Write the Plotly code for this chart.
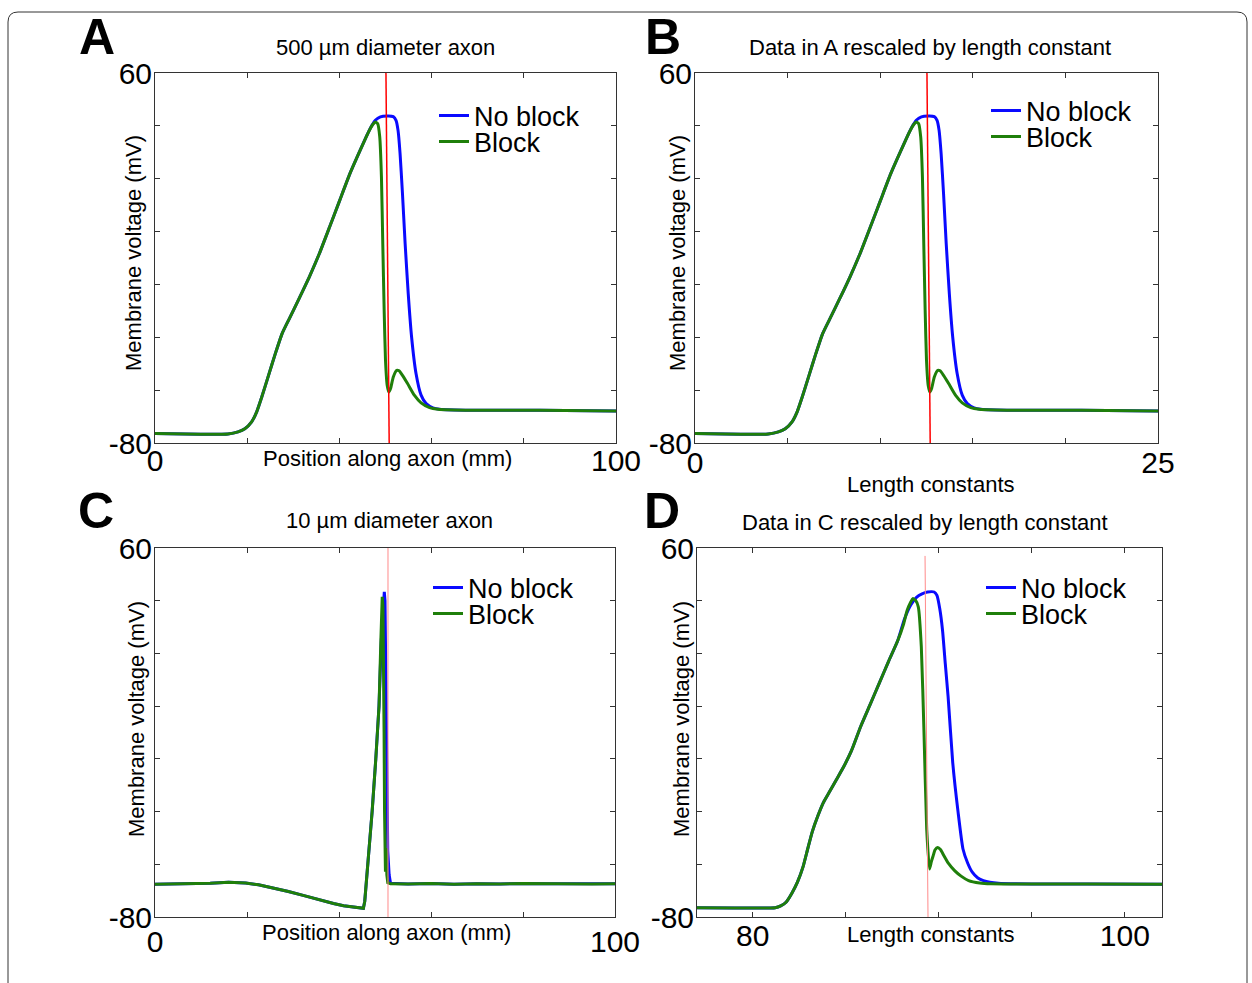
import plotly.graph_objects as go

W, H = 1252, 983
FONT = "Liberation Sans, Arial, sans-serif"

# ---------------- data ----------------
# Panel A: 500 um axon, position along axon (mm) vs membrane voltage (mV)
A_X_NOBLOCK = [0, 9.93, 15.81, 18.01, 19.49, 20.96, 22.06, 23.16, 24.63, 26.10, 27.57, 29.04, 31.25,
               33.46, 35.66, 37.87, 40.07, 42.28, 44.49, 46.32, 47.06, 47.79, 48.9, 50.37, 51.69, 52.28,
               52.72, 53.16, 53.68, 54.26, 54.93, 55.66, 56.62, 57.72, 58.82, 60.29, 61.76, 68.75, 83.46, 100]
A_V_NOBLOCK = [-76.4, -76.7, -76.6, -75.8, -74.6, -72.0, -68.2, -62.6, -54.4, -46.2, -38.6, -33.3, -25.4,
               -17.2, -8.3, 1.7, 11.8, 21.9, 30.7, 37.7, 40.2, 42.1, 43.4, 43.7, 43.5, 42.1,
               38.3, 29.5, 14.4, -4.6, -23.5, -39.9, -53.7, -61.9, -65.1, -66.7, -67.2, -67.6, -67.6, -67.9]
A_X_BLOCK = [0, 9.93, 15.81, 18.01, 19.49, 20.96, 22.06, 23.16, 24.63, 26.10, 27.57, 29.04, 31.25,
             33.46, 35.66, 37.87, 40.07, 42.28, 44.49, 46.32, 47.28, 47.79, 48.31, 48.75, 49.12, 49.41,
             49.71, 50.0, 50.37, 50.74, 51.10, 51.69, 52.43, 52.94, 53.68, 54.78, 56.25, 57.72, 59.56,
             61.40, 68.75, 83.46, 100]
A_V_BLOCK = [-76.4, -76.7, -76.6, -75.8, -74.6, -72.0, -68.2, -62.6, -54.4, -46.2, -38.6, -33.3, -25.4,
             -17.2, -8.3, 1.7, 11.8, 21.9, 30.7, 37.7, 40.6, 41.5, 40.8, 35.8, 20.7, -4.6,
             -29.8, -48.7, -58.2, -60.7, -59.4, -55.0, -52.5, -52.7, -54.4, -57.5, -61.9, -64.8, -66.6,
             -67.2, -67.6, -67.6, -67.9]
A_MARK_X = [50.1, 50.8]
A_MARK_V = [60, -80]

# Panel B: data of A rescaled by the length constant (mm per length constant)
LAMBDA_A_MM = 4.0

# Panel C: 10 um axon
C_X_NOBLOCK = [0, 6.5, 12, 16, 19.7, 22.5, 25.6, 29, 32.2, 35.5, 38.8, 41, 42.5, 44, 45.3, 45.6, 46.3,
               47.2, 48.0, 48.7, 49.2, 49.6, 49.85, 50.0, 50.15, 50.35, 50.6, 50.9, 51.2, 55, 60, 65,
               70, 75, 80, 85, 90, 95, 100]
C_V_NOBLOCK = [-67.6, -67.4, -67.2, -66.8, -67.1, -67.8, -68.9, -70.3, -71.8, -73.4, -74.9, -75.7, -76.1,
               -76.4, -76.7, -74.0, -60.0, -40.0, -20.0, 0.0, 25.0, 40.0, 43.4, 40.0, 10.0, -30.0, -55.0,
               -64.0, -67.2, -67.5, -67.3, -67.6, -67.4, -67.5, -67.3, -67.4, -67.4, -67.5, -67.4]
C_X_BLOCK = [0, 6.5, 12, 16, 19.7, 22.5, 25.6, 29, 32.2, 35.5, 38.8, 41, 42.5, 44, 45.3, 45.6, 46.3,
             47.2, 48.0, 48.7, 49.1, 49.3, 49.4, 49.55, 49.7, 49.8, 49.9, 50.0, 50.1, 50.2, 50.3, 50.4,
             50.6, 51.2, 55, 60, 65, 70, 75, 80, 85, 90, 95, 100]
C_V_BLOCK = [-67.6, -67.4, -67.2, -66.8, -67.1, -67.8, -68.9, -70.3, -71.8, -73.4, -74.9, -75.7, -76.1,
             -76.4, -76.7, -74.0, -60.0, -40.0, -20.0, 0.0, 25.0, 38.0, 41.5, 38.0, 20.0, -10.0, -40.0,
             -62.0, -62.8, -54.0, -56.0, -64.0, -67.0, -67.4, -67.5, -67.3, -67.6, -67.4, -67.5, -67.3,
             -67.4, -67.4, -67.5, -67.4]
C_MARK_X = [50.65, 50.65]
C_MARK_V = [60, -80]

# Panel D: data of C rescaled by length constant
D_X_NOBLOCK = [77, 79, 81.2, 81.5, 81.8, 82.1, 82.4, 82.7, 82.95, 83.2, 83.5, 83.8, 84.1, 84.5, 84.9,
               85.3, 85.8, 86.3, 86.8, 87.3, 87.8, 88.15, 88.5, 88.8, 89.1, 89.4, 89.75, 89.9, 90.05,
               90.2, 90.35, 90.5, 90.75, 91.04, 91.3, 91.55, 91.8, 92.1, 92.4, 93.2, 95, 98, 102]
D_V_NOBLOCK = [-76.5, -76.6, -76.5, -75.8, -74.3, -71.0, -66.8, -61.0, -54.2, -47.6, -41.6, -36.5, -32.8,
               -27.8, -22.8, -17.0, -7.7, 0.5, 8.7, 17.0, 25.0, 33.0, 38.5, 41.3, 42.6, 43.3, 43.3, 42.0,
               37.0, 28.8, 16.0, 3.6, -21.5, -40.4, -54.2, -59.5, -63.0, -65.2, -66.2, -67.2, -67.5,
               -67.5, -67.6]
D_X_BLOCK = [77, 79, 81.2, 81.5, 81.8, 82.1, 82.4, 82.7, 82.95, 83.2, 83.5, 83.8, 84.1, 84.5, 84.9,
             85.3, 85.8, 86.3, 86.8, 87.3, 87.8, 88.1, 88.3, 88.5, 88.6, 88.75, 88.9, 89.06, 89.2,
             89.35, 89.5, 89.6, 89.7, 89.8, 89.94, 90.1, 90.27, 90.5, 90.85, 91.2, 91.6, 92.2, 92.8,
             95, 98, 102]
D_V_BLOCK = [-76.5, -76.6, -76.5, -75.8, -74.3, -71.0, -66.8, -61.0, -54.2, -47.6, -41.6, -36.5, -32.8,
             -27.8, -22.8, -17.0, -7.7, 0.5, 8.7, 17.0, 25.0, 31.0, 36.4, 39.6, 40.8, 40.2, 37.6, 22.5,
             -8.9, -46.7, -61.8, -59.0, -56.7, -54.5, -53.6, -54.5, -56.7, -59.5, -62.4, -64.5, -66.2,
             -67.1, -67.4, -67.5, -67.5, -67.6]
D_MARK_X = [89.26, 89.42]
D_MARK_V = [57, -80]

SERIES = ["No block", "Block"]
PANEL_LETTERS = ["A", "B", "C", "D"]
PANEL_TITLES = ["500 µm diameter axon", "Data in A rescaled by length constant",
                "10 µm diameter axon", "Data in C rescaled by length constant"]
X_TITLES = ["Position along axon (mm)", "Length constants",
            "Position along axon (mm)", "Length constants"]
Y_TITLE = "Membrane voltage (mV)"
Y_TICKS = [-80, -60, -40, -20, 0, 20, 40, 60]
X_TICKS = [[0, 20, 40, 60, 80, 100], [0, 5, 10, 15, 20, 25],
           [0, 20, 40, 60, 80, 100], [80, 85, 90, 95, 100]]
X_TICK_LABELS = [["0", "", "", "", "", "100"], ["0", "", "", "", "", "25"],
                 ["0", "", "", "", "", "100"], ["80", "", "", "", "100"]]
X_RANGES = [[0, 100], [0, 25], [0, 100], [77, 102]]

BLUE = "#0a0aff"
GREEN = "#1f7f0a"

# ---------------- layout geometry (pixels) ----------------
def px_x(p):
    return p / W

def px_y(p):
    return 1 - p / H

DOMAINS = [  # (left, right, top, bottom) in pixels
    (155, 616, 73, 443),
    (695, 1158, 73, 443),
    (155, 615, 548, 917),
    (697, 1162, 548, 917),
]
X_LABEL_STANDOFF = [-9, -7, -2, -8]
LINE_SHAPE = ["spline", "spline", "linear", "spline"]

fig = go.Figure()

panel_data = [
    (A_X_NOBLOCK, A_V_NOBLOCK, A_X_BLOCK, A_V_BLOCK, A_MARK_X, A_MARK_V),
    ([x / LAMBDA_A_MM for x in A_X_NOBLOCK], A_V_NOBLOCK,
     [x / LAMBDA_A_MM for x in A_X_BLOCK], A_V_BLOCK,
     [x / LAMBDA_A_MM for x in A_MARK_X], A_MARK_V),
    (C_X_NOBLOCK, C_V_NOBLOCK, C_X_BLOCK, C_V_BLOCK, C_MARK_X, C_MARK_V),
    (D_X_NOBLOCK, D_V_NOBLOCK, D_X_BLOCK, D_V_BLOCK, D_MARK_X, D_MARK_V),
]
mark_styles = [("#ff0000", 1.5), ("#ff0000", 1.5), ("#ff8a8a", 1), ("#ff8a8a", 1)]

# legend geometry: (line start x, first row y, second row y)
LEG = [(439, 116, 142), (991, 111, 137), (433, 588, 614), (986, 588, 614)]

layout_extra = {}
for i, (xn, vn, xb, vb, mx, mv) in enumerate(panel_data):
    ax = "" if i == 0 else str(i + 1)
    l1 = "legend" if i == 0 else "legend%d" % (2 * i + 1)
    l2 = "legend%d" % (2 * i + 2)
    fig.add_trace(go.Scatter(x=xn, y=vn, mode="lines", name=SERIES[0], legend=l1,
                             line=dict(color=BLUE, width=3, shape=LINE_SHAPE[i], smoothing=0.5),
                             xaxis="x" + ax, yaxis="y" + ax))
    fig.add_trace(go.Scatter(x=xb, y=vb, mode="lines", name=SERIES[1], legend=l2,
                             line=dict(color=GREEN, width=3, shape=LINE_SHAPE[i], smoothing=0.5),
                             xaxis="x" + ax, yaxis="y" + ax))
    fig.add_trace(go.Scatter(x=mx, y=mv, mode="lines", showlegend=False,
                             line=dict(color=mark_styles[i][0], width=mark_styles[i][1]),
                             xaxis="x" + ax, yaxis="y" + ax))
    left, right, top, bottom = DOMAINS[i]
    axis_common = dict(showline=True, linecolor="#333333", linewidth=1, mirror="ticks",
                       ticks="inside", ticklen=5, tickcolor="#333333", showgrid=False,
                       zeroline=False, automargin=False,
                       tickfont=dict(family=FONT, size=30, color="black"))
    layout_extra["xaxis" + ax] = dict(axis_common, domain=[px_x(left), px_x(right)],
                                      range=X_RANGES[i], tickmode="array", tickvals=X_TICKS[i],
                                      ticktext=X_TICK_LABELS[i], anchor="y" + ax,
                                      ticklabelstandoff=X_LABEL_STANDOFF[i])
    layout_extra["yaxis" + ax] = dict(axis_common, domain=[px_y(bottom), px_y(top)],
                                      range=[-80, 60], tickmode="array", tickvals=Y_TICKS,
                                      ticktext=["-80", "", "", "", "", "", "", "60"],
                                      anchor="x" + ax, ticklabelstandoff=-4)
    lx, r1, r2 = LEG[i]
    for name, ry in ((l1, r1), (l2, r2)):
        layout_extra[name] = dict(x=px_x(lx - 5), y=px_y(ry), xanchor="left", yanchor="middle",
                                  bgcolor="rgba(0,0,0,0)", borderwidth=0,
                                  font=dict(family=FONT, size=27, color="black"))

annotations = []
LETTER_POS = [(97, 37), (663, 37), (96, 511), (662, 511)]
TITLE_POS = [(385, 48), (930, 48), (389, 520), (925, 522)]
XT_POS = [(387, 458), (931, 484), (386, 932), (931, 934)]
YT_POS = [(133, 253), (677, 253), (136, 719), (681, 719)]
for i in range(4):
    annotations.append(dict(text="<b>%s</b>" % PANEL_LETTERS[i], x=px_x(LETTER_POS[i][0]),
                            y=px_y(LETTER_POS[i][1]), xref="paper", yref="paper", showarrow=False,
                            xanchor="center", yanchor="middle",
                            font=dict(family=FONT, size=50, color="black")))
    annotations.append(dict(text=PANEL_TITLES[i], x=px_x(TITLE_POS[i][0]), y=px_y(TITLE_POS[i][1]),
                            xref="paper", yref="paper", showarrow=False, xanchor="center",
                            yanchor="middle", font=dict(family=FONT, size=22, color="black")))
    annotations.append(dict(text=X_TITLES[i], x=px_x(XT_POS[i][0]), y=px_y(XT_POS[i][1]),
                            xref="paper", yref="paper", showarrow=False, xanchor="center",
                            yanchor="middle", font=dict(family=FONT, size=22, color="black")))
    annotations.append(dict(text=Y_TITLE, x=px_x(YT_POS[i][0]), y=px_y(YT_POS[i][1]),
                            xref="paper", yref="paper", showarrow=False, xanchor="center",
                            yanchor="middle", textangle=-90,
                            font=dict(family=FONT, size=22, color="black")))

# outer rounded frame
def P(x, y):
    return "%.5f,%.5f" % (px_x(x), px_y(y))

frame_path = ("M " + P(8, 990) + " L " + P(8, 22) + " Q " + P(8, 12) + " " + P(18, 12) +
              " L " + P(1237, 12) + " Q " + P(1247, 12) + " " + P(1247, 22) + " L " + P(1247, 990))

fig.update_layout(
    width=W, height=H, autosize=False,
    margin=dict(l=0, r=0, t=0, b=0, pad=0, autoexpand=False),
    paper_bgcolor="white", plot_bgcolor="white",
    annotations=annotations,
    shapes=[dict(type="path", path=frame_path, xref="paper", yref="paper",
                 line=dict(color="#333333", width=1))],
    **layout_extra,
)

fig.write_html(
    "out.html",
    post_script="document.body.style.margin='0px';document.body.style.padding='0px';"
                "document.body.style.overflow='hidden';",
)
